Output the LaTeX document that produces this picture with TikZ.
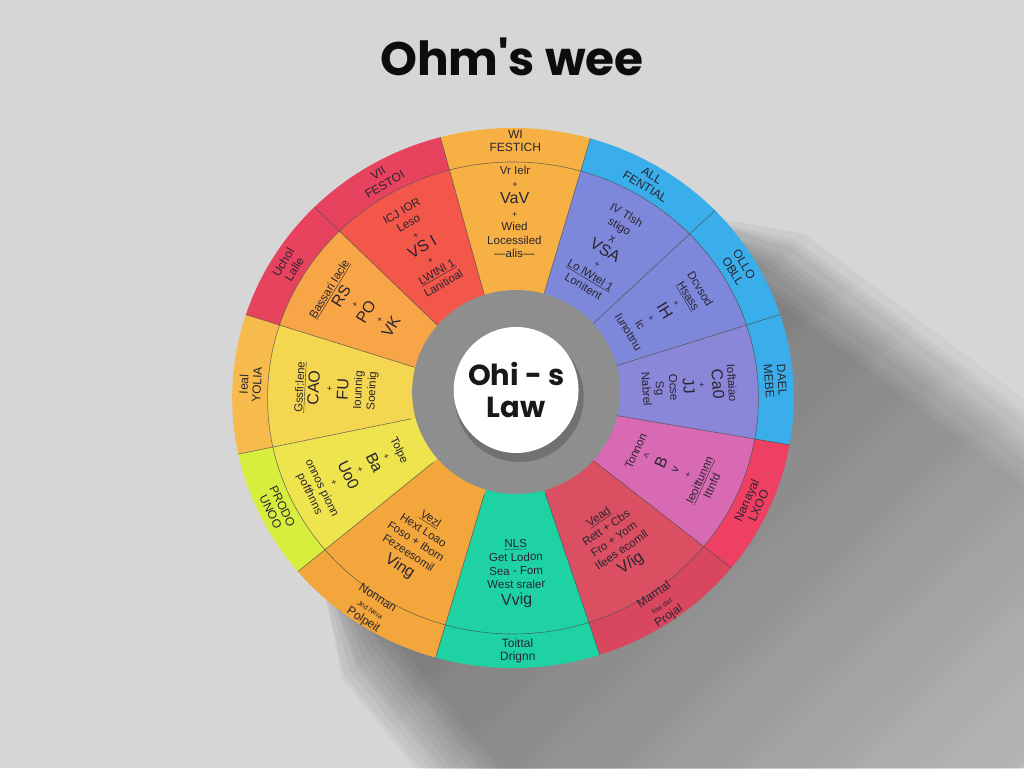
\documentclass[tikz,border=0pt]{standalone}
\usepackage{fontspec}
\setmainfont{Liberation Sans}
\newfontfamily\popf{Poppins}
\usetikzlibrary{fadings}
\definecolor{bg}{HTML}{D6D6D6}
\definecolor{topc}{HTML}{F6B044}
\definecolor{bluec}{HTML}{3AAEEA}
\definecolor{peri}{HTML}{7E88DA}
\definecolor{peritwo}{HTML}{8A86D8}
\definecolor{redout}{HTML}{EE4062}
\definecolor{pinkin}{HTML}{D86AB4}
\definecolor{crimout}{HTML}{D8475E}
\definecolor{crimin}{HTML}{DA5062}
\definecolor{tealc}{HTML}{1FD2A4}
\definecolor{orngc}{HTML}{F3A63C}
\definecolor{limec}{HTML}{D8EE3E}
\definecolor{yelin}{HTML}{EEE44E}
\definecolor{yorng}{HTML}{F7BA4C}
\definecolor{yeltwo}{HTML}{F4D650}
\definecolor{pinkout}{HTML}{E8435E}
\definecolor{orin}{HTML}{F7A546}
\definecolor{redin}{HTML}{F2574A}
\definecolor{ringc}{HTML}{8E8E8E}
\definecolor{txt}{HTML}{2A2530}
\newcommand\wsector[5]{\fill[#5] (#1:#3) arc[start angle=#1,end angle=#2,radius=#3] -- (#2:#4) arc[start angle=#2,end angle=#1,radius=#4] -- cycle;}
\newcommand\bgt[1]{{\fontsize{16}{16}\selectfont #1}}
\newcommand\pl{{\fontsize{9}{9}\selectfont +}}
\begin{document}
\begin{tikzpicture}[x=1pt,y=1pt,
  lbl/.style={align=center, font=\fontsize{11.5}{13.6}\selectfont, text=txt, inner sep=0pt},
  olbl/.style={align=center, font=\fontsize{12}{13}\selectfont, text=txt, inner sep=0pt},
  divider/.style={draw=black!70, line width=0.6pt, opacity=0.75},
  shadowlayer/.style={black, opacity=0.05, path fading=east, fading angle=-45}]
\useasboundingbox (0,0) rectangle (1024,768);
\fill[bg] (0,0) rectangle (1024,768);
\begin{scope}[shift={(513,370)}, xscale=1.04]
  % soft long shadow (fan towards lower right)
  \foreach \r in {236,242,...,302}
    \fill[shadowlayer]
      (52:240) -- ([shift={(-38:120)}]52:\r) -- ([shift={(-38:650)}]52:\r)
      -- ([shift={(-52:650)}]218:\r) -- ([shift={(-52:120)}]218:\r) -- (218:240) -- cycle;
  % sectors: outer band 236-270, inner 0-236
  \wsector{74}{105}{270}{0}{topc}
  \wsector{44}{74}{270}{236}{bluec}   \wsector{44}{74}{236}{0}{peri}
  \wsector{18}{44}{270}{236}{bluec}   \wsector{18}{44}{236}{0}{peri}
  \wsector{-10}{18}{270}{236}{bluec}  \wsector{-10}{18}{236}{0}{peritwo}
  \wsector{-39}{-10}{270}{236}{redout} \wsector{-39}{-10}{236}{0}{pinkin}
  \wsector{-72}{-39}{270}{236}{crimout} \wsector{-72}{-39}{236}{0}{crimin}
  \wsector{-106}{-72}{270}{0}{tealc}
  \wsector{-140}{-106}{270}{0}{orngc}
  \wsector{-168}{-140}{270}{236}{limec} \wsector{-168}{-140}{236}{0}{yelin}
  \wsector{162}{192}{270}{236}{yorng}  \wsector{162}{192}{236}{0}{yeltwo}
  \wsector{135}{162}{270}{236}{pinkout} \wsector{135}{162}{236}{0}{orin}
  \wsector{105}{135}{270}{236}{pinkout} \wsector{105}{135}{236}{0}{redin}
  % dividers
  \draw[divider] (0,0) circle (236);
  \foreach \a in {74,105,44,18,-10,-39,-72,-106,-140,-168,162,135}
    \draw[divider] (\a:100) -- (\a:270);
  % gray ring and centre
  \fill[ringc] (3,6) circle[x radius=100, y radius=102];
  \fill[black, opacity=0.2] (6,1) circle[x radius=62, y radius=65];
  \fill[white] (3,8) circle[x radius=60, y radius=63];
  \node[font=\popf\bfseries\fontsize{29}{32}\selectfont, align=center, text=black!90] (centre) at (3,8) {Ohi - s\\Law};
  % sector texts
  \node[lbl, rotate=-0.5] (t1i) at (89.5:186) {Vr Ielr\\\pl\\[2pt]\bgt{VaV}\\\pl\\Wied\\Locessiled\\—alis—};
  \node[olbl, rotate=-0.5] (t1o) at (89.5:257) {WI\\FESTICH};
  \node[lbl, rotate=-31] (t2i) at (59:172) {IV Tlsh\\stigo\\x\\[2pt]\bgt{VSA}\\\pl\\\underline{Lo lWtel 1}\\Lonitent};
  \node[olbl, rotate=-31] (t2o) at (59:253) {ALL\\FENTIAL};
  \node[lbl, rotate=-59] (t3i) at (31:170) {Dcvsod\\\underline{Hsass}\\\pl\\[2pt]\bgt{IH}\\\pl\\lc\\Iunottnu};
  \node[olbl, rotate=-59] (t3o) at (31:253) {OLLO\\OBLL};
  \node[lbl, rotate=-86] (t4i) at (4:170) {Ioftaiao\\[2pt]\bgt{Ca0}\\\pl\\[2pt]\bgt{JJ}\\Ocse\\Sg\\Nabrel};
  \node[olbl, rotate=-86] (t4o) at (4:253) {DAEL\\MEBE};
  \node[lbl, rotate=65.5] (t5i) at (-24.5:170) {Tonnon\\\textasciicircum\\[2pt]\bgt{B}\\v\\\pl\\\underline{Ieoittunnn}\\Ittnfd};
  \node[olbl, rotate=65.5] (t5o) at (-24.5:253) {Nanayal\\LXOO};
  \node[lbl, rotate=34.5] (t6i) at (-55.5:174) {\underline{Vead}\\Rett + Cbs\\Fro + Yom\\Ifees ecomll\\[3pt]\bgt{V/ig}};
  \node[olbl, rotate=34.5] (t6o) at (-55.5:252) {Marrtal\\{\fontsize{7}{8}\selectfont fow dat}\\Projal};
  \node[lbl, rotate=1] (t7i) at (-89:176) {\underline{NLS}\\Get Lodon\\Sea - Fom\\West sraler\\[3pt]\bgt{Vvig}};
  \node[olbl, rotate=1] (t7o) at (-89:253) {Toittal\\Drignn};
  \node[lbl, rotate=-33] (t8i) at (-123:174) {\underline{Vezl}\\Hext Loao\\Foso + Iborn\\Fezeesomil\\[3pt]\bgt{Ving}};
  \node[olbl, rotate=-33] (t8o) at (-123:252) {Nonnan\\{\fontsize{7}{8}\selectfont Jed Nera}\\Polpeit};
  \node[lbl, rotate=-64] (t9i) at (-154:170) {Tolpe\\\pl\\[2pt]\bgt{Ba}\\\pl\\[2pt]\bgt{Uo0}\\\pl\\onnos pionn\\pofthnns};
  \node[olbl, rotate=-64] (t9o) at (-154:253) {PRODO\\UNOO};
  \node[lbl, rotate=87] (t10i) at (177:170) {\underline{Gssfi:lene}\\[2pt]\bgt{CAO}\\\pl\\[2pt]\bgt{FU}\\Iounnig\\Soeinig};
  \node[olbl, rotate=87] (t10o) at (177:253) {Ieal\\YOLIA};
  \node[lbl, rotate=58.5] (t11i) at (148.5:172) {\underline{Bassari Iacle}\\[2pt]\bgt{RS}\\\pl\\[2pt]\bgt{PO}\\\pl\\[2pt]\bgt{VK}};
  \node[olbl, rotate=58.5] (t11o) at (148.5:253) {Uchol\\Lalle};
  \node[lbl, rotate=30] (t12i) at (120:174) {ICJ IOR\\Leso\\\pl\\[2pt]\bgt{VS I}\\\pl\\\underline{LWtNl 1}\\Lanitioal};
  \node[olbl, rotate=30] (t12o) at (120:253) {VII\\FESTOI};
\end{scope}
\node[font=\popf\bfseries\fontsize{47}{50}\selectfont, text=black!95] (title) at (512,711) {Ohm's wee};
\end{tikzpicture}
\end{document}
